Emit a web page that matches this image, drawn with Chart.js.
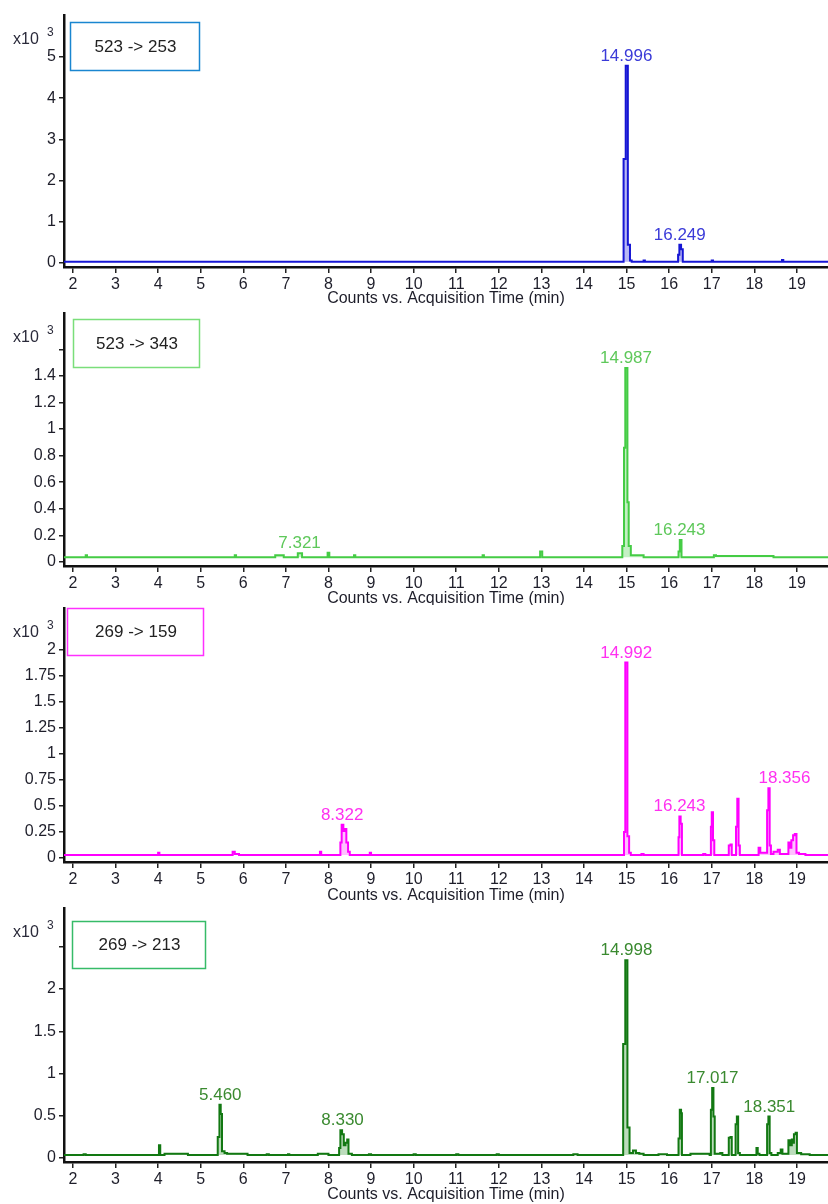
<!DOCTYPE html>
<html>
<head>
<meta charset="utf-8">
<script src="https://cdn.jsdelivr.net/npm/chart.js@4.4.1/dist/chart.umd.min.js"></script>
<style>
  html, body { margin: 0; padding: 0; background: #fff; }
  .panel { width: 828px; overflow: hidden; }
  canvas { display: block; }
</style>
</head>
<body>
<div class="panel"><canvas id="c1" width="828" height="308"></canvas></div>
<div class="panel"><canvas id="c2" width="828" height="297"></canvas></div>
<div class="panel"><canvas id="c3" width="828" height="300"></canvas></div>
<div class="panel"><canvas id="c4" width="828" height="299"></canvas></div>
<script>
'use strict';

// x axis (minutes)
var xTicks = [2, 3, 4, 5, 6, 7, 8, 9, 10, 11, 12, 13, 14, 15, 16, 17, 18, 19];

// y axis ticks (x10^3 counts)
var yTicks1 = [0, 1, 2, 3, 4, 5];
var yLabels1 = ['0', '1', '2', '3', '4', '5'];
var yTicks2 = [0, 0.2, 0.4, 0.6, 0.8, 1, 1.2, 1.4, 1.6];
var yLabels2 = ['0', '0.2', '0.4', '0.6', '0.8', '1', '1.2', '1.4', ''];
var yTicks3 = [0, 0.25, 0.5, 0.75, 1, 1.25, 1.5, 1.75, 2];
var yLabels3 = ['0', '0.25', '0.5', '0.75', '1', '1.25', '1.5', '1.75', '2'];
var yTicks4 = [0, 0.5, 1, 1.5, 2, 2.5];
var yLabels4 = ['0', '0.5', '1', '1.5', '2', ''];

// 523 -> 253
var time1 = [1.79, 14.93, 14.98, 15.03, 15.08, 15.12, 15.40, 15.43, 16.21,
             16.24, 16.28, 16.32, 17.00, 17.03, 18.65, 18.68, 19.73];
var counts1 = [0.03, 2.52, 4.79, 0.44, 0.06, 0.03, 0.06, 0.03, 0.20,
               0.44, 0.33, 0.03, 0.06, 0.03, 0.07, 0.03, 0.03];
var peaks1 = [14.996, 16.249];

// 523 -> 343
var time2 = [1.79, 2.30, 2.33, 5.80, 5.83, 6.75, 6.95, 7.28, 7.38, 7.98,
             8.02, 8.60, 8.63, 11.62, 11.65, 12.97, 13.02, 14.90, 14.94, 14.97,
             15.02, 15.05, 15.10, 15.40, 16.22, 16.25, 16.29, 17.05, 17.10, 18.45,
             19.73];
var counts2 = [0.035, 0.05, 0.035, 0.05, 0.035, 0.05, 0.035, 0.065, 0.035, 0.07,
               0.035, 0.05, 0.035, 0.05, 0.035, 0.08, 0.035, 0.12, 0.86, 1.46,
               0.45, 0.12, 0.05, 0.035, 0.08, 0.165, 0.035, 0.05, 0.045, 0.035,
               0.035];
var peaks2 = [7.321, 14.987, 16.243];

// 269 -> 159
var time3 = [1.79, 4.00, 4.03, 5.75, 5.80, 5.90, 7.80, 7.83, 8.28, 8.31,
             8.35, 8.39, 8.42, 8.46, 8.50, 8.97, 9.00, 14.94, 14.97, 15.02,
             15.06, 15.10, 15.35, 15.40, 16.22, 16.24, 16.27, 16.30, 16.80, 16.85,
             16.98, 17.00, 17.03, 17.06, 17.40, 17.44, 17.47, 17.57, 17.60, 17.63,
             17.66, 18.10, 18.14, 18.30, 18.33, 18.36, 18.39, 18.45, 18.55, 18.60,
             18.80, 18.84, 18.87, 18.91, 18.95, 18.99, 19.05, 19.20, 19.73];
var counts3 = [0.03, 0.05, 0.03, 0.06, 0.04, 0.03, 0.06, 0.03, 0.15, 0.32,
               0.26, 0.28, 0.15, 0.06, 0.03, 0.05, 0.03, 0.25, 1.88, 0.21,
               0.05, 0.03, 0.04, 0.03, 0.20, 0.40, 0.33, 0.03, 0.04, 0.03,
               0.30, 0.44, 0.17, 0.03, 0.12, 0.13, 0.03, 0.30, 0.57, 0.12,
               0.03, 0.10, 0.05, 0.46, 0.67, 0.12, 0.04, 0.06, 0.08, 0.04,
               0.15, 0.10, 0.17, 0.22, 0.23, 0.05, 0.04, 0.03, 0.03];
var peaks3 = [8.322, 14.992, 16.243, 18.356];

// 269 -> 213
var time4 = [1.79, 2.25, 2.30, 4.02, 4.05, 4.15, 4.70, 5.40, 5.44, 5.47,
             5.50, 5.56, 5.62, 6.10, 6.55, 6.60, 7.05, 7.08, 7.75, 8.00,
             8.25, 8.28, 8.32, 8.36, 8.40, 8.44, 8.47, 8.55, 8.95, 9.00,
             10.00, 10.05, 11.00, 11.05, 11.95, 12.00, 13.75, 13.85, 14.92, 14.97,
             15.02, 15.07, 15.15, 15.22, 15.30, 15.40, 15.75, 15.95, 16.22, 16.25,
             16.28, 16.30, 16.50, 16.95, 16.98, 17.01, 17.04, 17.07, 17.20, 17.25,
             17.40, 17.44, 17.47, 17.56, 17.59, 17.62, 17.66, 18.05, 18.08, 18.12,
             18.30, 18.33, 18.36, 18.40, 18.55, 18.62, 18.66, 18.80, 18.84, 18.88,
             18.91, 18.93, 18.97, 19.00, 19.10, 19.30, 19.73];
var counts4 = [0.035, 0.045, 0.035, 0.15, 0.035, 0.05, 0.035, 0.25, 0.63, 0.52,
               0.08, 0.06, 0.05, 0.035, 0.045, 0.035, 0.045, 0.035, 0.05, 0.035,
               0.12, 0.33, 0.28, 0.15, 0.18, 0.22, 0.05, 0.035, 0.045, 0.035,
               0.045, 0.035, 0.045, 0.035, 0.045, 0.035, 0.045, 0.035, 1.35, 2.34,
               0.36, 0.06, 0.09, 0.06, 0.05, 0.035, 0.045, 0.035, 0.23, 0.57,
               0.53, 0.035, 0.05, 0.035, 0.57, 0.83, 0.49, 0.05, 0.06, 0.035,
               0.24, 0.25, 0.035, 0.40, 0.49, 0.06, 0.035, 0.12, 0.05, 0.035,
               0.40, 0.49, 0.06, 0.035, 0.06, 0.10, 0.05, 0.21, 0.15, 0.22,
               0.18, 0.28, 0.30, 0.06, 0.045, 0.035, 0.035];
var peaks4 = [5.460, 8.330, 14.998, 17.017, 18.351];

var FONT = '"Liberation Sans", Arial, sans-serif';

// draws the transition box, the x10^3 note and the peak labels
var panelDecor = {
  id: 'panelDecor',
  afterDraw: function(chart, args, o) {
    var ctx = chart.ctx;
    var area = chart.chartArea;
    var xs = chart.scales.x, ys = chart.scales.y;
    var pts = chart.data.datasets[0].data;
    ctx.save();

    ctx.fillStyle = '#fff';
    ctx.fillRect(o.box[0], o.box[1], o.box[2], o.box[3]);
    ctx.strokeStyle = o.boxColor;
    ctx.lineWidth = 1.5;
    ctx.strokeRect(o.box[0] + 0.5, o.box[1] + 0.5, o.box[2], o.box[3]);
    ctx.fillStyle = '#222';
    ctx.font = '17px ' + FONT;
    ctx.textAlign = 'center';
    ctx.textBaseline = 'middle';
    ctx.fillText(o.label, o.box[0] + o.box[2] / 2 + 1, o.box[1] + o.box[3] / 2 + 1);

    ctx.textAlign = 'left';
    ctx.fillStyle = '#2a2a3a';
    ctx.font = '16px ' + FONT;
    ctx.fillText('x10', 13, area.top + 25);
    ctx.font = '12px ' + FONT;
    ctx.fillText('3', 47, area.top + 18);

    ctx.font = '17px ' + FONT;
    ctx.fillStyle = o.textColor;
    ctx.textAlign = 'center';
    ctx.textBaseline = 'alphabetic';
    o.peaks.forEach(function(t) {
      var top = 0;
      pts.forEach(function(p) {
        if (Math.abs(p.x - t) <= 0.06 && p.y > top) top = p.y;
      });
      var dx = (o.shift && o.shift[t.toFixed(3)]) || 0;
      ctx.fillText(t.toFixed(3), xs.getPixelForValue(t) + dx, ys.getPixelForValue(top) - 5);
    });
    ctx.restore();
  }
};

function makePanel(cfg) {
  var points = cfg.time.map(function(t, i) { return { x: t, y: cfg.counts[i] }; });
  return new Chart(document.getElementById(cfg.id), {
    type: 'line',
    data: {
      datasets: [{
        data: points,
        borderColor: cfg.line,
        backgroundColor: cfg.fill,
        borderWidth: 2,
        pointRadius: 0,
        stepped: 'before',
        fill: { value: cfg.base }
      }]
    },
    options: {
      responsive: false,
      animation: false,
      layout: { padding: { top: cfg.top, left: 0, right: 0, bottom: 0 } },
      plugins: {
        legend: { display: false },
        tooltip: { enabled: false },
        panelDecor: {
          box: cfg.box, boxColor: cfg.boxColor, label: cfg.label,
          textColor: cfg.text, peaks: cfg.peaks, shift: cfg.shift
        }
      },
      scales: {
        x: {
          type: 'linear',
          min: 1.79,
          max: 19.73,
          afterBuildTicks: function(s) { s.ticks = xTicks.map(function(v) { return { value: v }; }); },
          afterFit: function(s) { s.height = cfg.axisH; s.paddingLeft = 0; s.paddingRight = 0; },
          grid: { drawOnChartArea: false, drawTicks: true, tickLength: 6, color: '#222', lineWidth: 1.5 },
          border: { display: true, color: '#111', width: 2.5 },
          ticks: {
            color: '#1e1e2a', padding: 2, maxRotation: 0, autoSkip: false,
            font: { family: FONT, size: 16 },
            callback: function(v) { return String(v); }
          },
          title: {
            display: true,
            text: 'Counts vs. Acquisition Time (min)',
            color: '#1e1e2a',
            font: { family: FONT, size: 16 },
            padding: { top: 0, bottom: cfg.titlePad }
          }
        },
        y: {
          type: 'linear',
          min: cfg.yMin,
          max: cfg.yMax,
          afterBuildTicks: function(s) { s.ticks = cfg.yTicks.map(function(v) { return { value: v }; }); },
          afterFit: function(s) { s.width = 64; s.paddingTop = 0; s.paddingBottom = 0; },
          grid: { drawOnChartArea: false, drawTicks: true, tickLength: 5, color: '#222', lineWidth: 1.5 },
          border: { display: true, color: '#111', width: 2.5 },
          ticks: {
            color: '#1e1e2a', padding: 3, autoSkip: false,
            font: { family: FONT, size: 16 },
            callback: function(v, i) { return cfg.yLabels[i]; }
          }
        }
      }
    },
    plugins: [panelDecor]
  });
}

makePanel({
  id: 'c1', time: time1, counts: counts1, peaks: peaks1, base: 0.03,
  yMin: -0.1, yMax: 6.02, yTicks: yTicks1, yLabels: yLabels1,
  label: '523 -> 253', line: '#1616d4', fill: '#b8b8f4', text: '#3a3ad8', boxColor: '#1a86d0',
  box: [70, 22, 129, 48], top: 15, axisH: 41, titlePad: 0
});
makePanel({
  id: 'c2', time: time2, counts: counts2, peaks: peaks2, base: 0.035,
  yMin: -0.03, yMax: 1.873, yTicks: yTicks2, yLabels: yLabels2,
  label: '523 -> 343', line: '#45cc45', fill: '#c4f0c4', text: '#5ec85a', boxColor: '#7ade7a',
  box: [73, 11, 126, 48], top: 5, axisH: 39, titlePad: -3
});
makePanel({
  id: 'c3', time: time3, counts: counts3, peaks: peaks3, base: 0.03,
  yMin: -0.038, yMax: 2.404, yTicks: yTicks3, yLabels: yLabels3,
  label: '269 -> 159', line: '#ff00ff', fill: '#ffc0ff', text: '#ff30f0', boxColor: '#ff30ff',
  box: [67, 3, 136, 47], top: 3, axisH: 43, titlePad: 0, shift: { '18.356': 15 }
});
makePanel({
  id: 'c4', time: time4, counts: counts4, peaks: peaks4, base: 0.035,
  yMin: -0.047, yMax: 2.959, yTicks: yTicks4, yLabels: yLabels4,
  label: '269 -> 213', line: '#127812', fill: '#bcdcbc', text: '#3a8a30', boxColor: '#36bb68',
  box: [72, 16, 133, 47], top: 3, axisH: 42, titlePad: 0
});
</script>
</body>
</html>
